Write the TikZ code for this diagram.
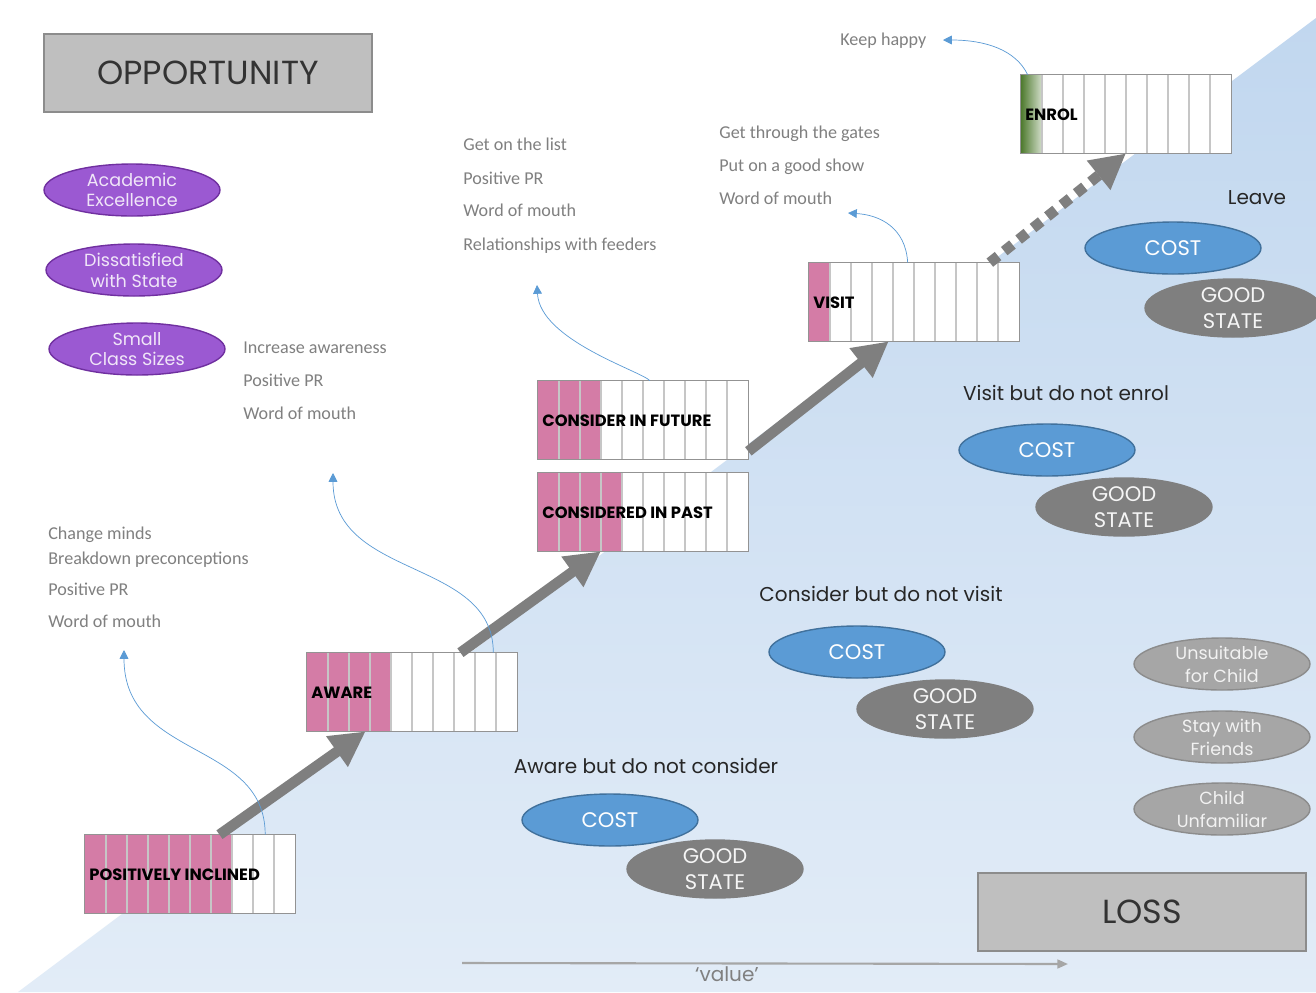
\documentclass[tikz,border=0pt]{standalone}
\usepackage{fontspec}
\setmainfont{Carlito}
\newfontfamily\gothic{Poppins}
\usetikzlibrary{arrows.meta,shapes.geometric,calc}

\definecolor{pinkcell}{RGB}{212,124,166}
\definecolor{enrolgreen}{RGB}{78,122,46}
\definecolor{arrowgray}{RGB}{127,127,127}
\definecolor{hintblue}{RGB}{91,155,213}
\definecolor{listgray}{RGB}{128,128,128}
\definecolor{costblue}{RGB}{91,155,213}
\definecolor{costedge}{RGB}{65,113,156}
\definecolor{stategray}{RGB}{127,127,127}
\definecolor{reasongray}{RGB}{166,166,166}
\definecolor{purplefill}{RGB}{155,89,210}
\definecolor{purpleedge}{RGB}{112,48,160}
\definecolor{boxgray}{RGB}{191,191,191}
\definecolor{bgtop}{RGB}{193,215,239}
\definecolor{bgbottom}{RGB}{226,236,247}

\begin{document}
\begin{tikzpicture}[x=0.02cm, y=-0.02cm,
  stagebox/.style={fill=white, minimum width=4.2cm, minimum height=1.56cm, inner sep=0pt},
  stagelabel/.style={anchor=base west, inner sep=0pt, text=black, font=\gothic\bfseries\fontsize{9.3}{11}\selectfont},
  cellline/.style={draw=gray!45, line width=0.6pt},
  boxedge/.style={draw=gray!85, line width=0.8pt},
  bigarrow/.style={draw=arrowgray, line width=6pt, -{Triangle[length=20pt,width=20pt]}},
  hint/.style={draw=hintblue, line width=0.4pt, -{Triangle[length=5pt,width=5pt]}},
  listtext/.style={anchor=base west, inner sep=0pt, text=listgray, font=\fontsize{10.3}{12}\selectfont},
  heading/.style={anchor=base, inner sep=0pt, text=black!85, font=\gothic\fontsize{11.4}{13}\selectfont},
  oval/.style={ellipse, minimum width=3.52cm, minimum height=1.04cm, inner sep=0pt, align=center, line width=0.8pt},
  cost/.style={oval, fill=costblue, draw=costedge, text=white, font=\gothic\fontsize{12}{14.8}\selectfont},
  goodstate/.style={oval, fill=stategray, draw=stategray, text=white!92!gray, font=\gothic\fontsize{12}{14.8}\selectfont},
  reason/.style={oval, fill=purplefill, draw=purpleedge, text=white!85!purplefill, font=\gothic\fontsize{10}{11.8}\selectfont},
  lossreason/.style={oval, fill=reasongray, draw=gray!90, text=white!85!reasongray, font=\gothic\fontsize{10}{13.2}\selectfont},
  bigbox/.style={fill=boxgray, draw=gray!90, line width=0.8pt, minimum width=6.56cm, minimum height=1.56cm, inner sep=0pt, text=black!80, font=\gothic\fontsize{19}{22}\selectfont}
]
\useasboundingbox (0,0) rectangle (1316,992);
\fill[white] (0,0) rectangle (1316,992);
\shade[top color=bgtop, bottom color=bgbottom] (18,992) -- (1316,18) -- (1316,992) -- cycle;

\node[bigbox] (opp) at (208,73) {OPPORTUNITY};
\node[bigbox] (loss) at (1142,912) {LOSS};

\node[reason] (r1) at (132,190) {Academic\\Excellence};
\node[reason] (r2) at (134,270) {Dissatisfied\\with State};
\node[reason] (r3) at (137,349) {Small\\Class Sizes};

% stages
\foreach \nm/\bx/\by/\pk/\lab in {pos/85/835/147/POSITIVELY INCLINED, aware/307/653/84/AWARE, future/538/381/63/CONSIDER IN FUTURE, past/538/473/84/CONSIDERED IN PAST, visit/809/263/21/VISIT} {
    \node[stagebox] (\nm) at (\bx+105,\by+39) {};
    \fill[pinkcell] (\bx,\by) rectangle (\bx+\pk,\by+78);
    \foreach \c in {1,...,9}
        \draw[cellline] (\bx+21*\c,\by) -- (\bx+21*\c,\by+78);
    \draw[boxedge] (\nm.north west) rectangle (\nm.south east);
    \node[stagelabel] at (\bx+4,\by+45) {\lab};
}
\node[stagebox] (enrol) at (1126,114) {};
\shade[left color=enrolgreen, right color=enrolgreen!25] (1021,75) rectangle (1042,153);
\foreach \c in {1,...,9}
    \draw[cellline] (1021+21*\c,75) -- (1021+21*\c,153);
\draw[boxedge] (enrol.north west) rectangle (enrol.south east);
\node[stagelabel] at (1025,120) {ENROL};

\draw[bigarrow] ($(pos.north west)!0.64!(pos.north east)$) -- ($(aware.south west)!0.28!(aware.south east)$);
\draw[bigarrow] ($(aware.north west)!0.73!(aware.north east)$) -- ($(past.south west)!0.3!(past.south east)$);
\draw[bigarrow] ($(future.south east)+(0,-8)$) -- ($(visit.south west)!0.38!(visit.south east)$);
\draw[bigarrow, dash pattern=on 6pt off 4.5pt] ($(visit.north west)!0.86!(visit.north east)$) -- ($(enrol.south west)!0.5!(enrol.south east)$);

% what to do at each stage
\node[listtext] (t1) at (48,539) {Change minds};
\node[listtext] (t2) at (48,564) {Breakdown preconceptions};
\node[listtext] (t3) at (48,595) {Positive PR};
\node[listtext] (t4) at (48,627) {Word of mouth};
\node[listtext] (a1) at (243,353) {Increase awareness};
\node[listtext] (a2) at (243,386) {Positive PR};
\node[listtext] (a3) at (243,419) {Word of mouth};
\node[listtext] (c1) at (463,150) {Get on the list};
\node[listtext] (c2) at (463,184) {Positive PR};
\node[listtext] (c3) at (463,216) {Word of mouth};
\node[listtext] (c4) at (463,250) {Relationships with feeders};
\node[listtext] (v1) at (719,138) {Get through the gates};
\node[listtext] (v2) at (719,171) {Put on a good show};
\node[listtext] (v3) at (719,204) {Word of mouth};
\node[listtext] (e1) at (840,45) {Keep happy};

\coordinate (posto) at (124,650);
\coordinate (awareto) at (333,473);
\coordinate (futureto) at (537,285);
\coordinate (visitto) at (848,213);
\coordinate (enrolto) at (943,40);
\draw[hint] ($(pos.north west)!0.857!(pos.north east)$) .. controls +(0,-95) and (124,760) .. (posto);
\draw[hint] ($(aware.north west)!0.886!(aware.north east)$) .. controls +(0,-95) and (333,580) .. (awareto);
\draw[hint] ($(future.north west)!0.533!(future.north east)$) .. controls +(-10,-10) and (540,340) .. (futureto);
\draw[hint] ($(visit.north west)!0.47!(visit.north east)$) .. controls +(-2,-35) and (880,215) .. (visitto);
\draw[hint] ($(enrol.north west)!0.033!(enrol.north east)$) .. controls +(-12,-25) and (985,40) .. (enrolto);

% losses
\node[heading] (h4) at (1257,204) {Leave};
\node[heading] (h3) at (1066,400) {Visit but do not enrol};
\node[heading] (h2) at (881,601) {Consider but do not visit};
\node[heading] (h1) at (646,773) {Aware but do not consider};

\node[cost] (k4) at (1173,248) {COST};
\node[goodstate] (g4) at (1233,308) {GOOD\\STATE};
\node[cost] (k3) at (1047,450) {COST};
\node[goodstate] (g3) at (1124,507) {GOOD\\STATE};
\node[cost] (k2) at (857,652) {COST};
\node[goodstate] (g2) at (945,709) {GOOD\\STATE};
\node[cost] (k1) at (610,820) {COST};
\node[goodstate] (g1) at (715,869) {GOOD\\STATE};

\node[lossreason] (l1) at (1222,664) {Unsuitable\\for Child};
\node[lossreason] (l2) at (1222,737) {Stay with\\Friends};
\node[lossreason] (l3) at (1222,809) {Child\\Unfamiliar};

\coordinate (vstart) at (462,963);
\coordinate (vend) at (1068,964);
\draw[draw=gray!70, line width=1.2pt, -{Triangle[length=6pt,width=5pt]}] (vstart) -- (vend);
\node[heading, text=gray] (val) at (727,981) {‘value’};
\end{tikzpicture}
\end{document}
